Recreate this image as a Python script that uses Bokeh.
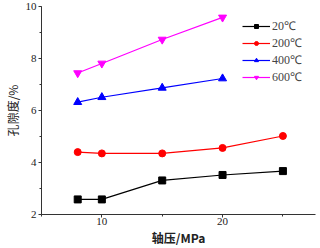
from bokeh.plotting import figure
from bokeh.models import Range1d, SingleIntervalTicker, Legend, LegendItem
from bokeh.embed import file_html
from bokeh.resources import INLINE

pressure = [8, 10, 15, 20, 25]
pressure_short = [8, 10, 15, 20]
t20 = [2.58, 2.58, 3.31, 3.52, 3.67]
t200 = [4.40, 4.35, 4.35, 4.56, 5.02]
t400 = [6.32, 6.51, 6.87, 7.23]
t600 = [7.44, 7.81, 8.73, 9.58]
labels = ["20℃", "200℃", "400℃", "600℃"]
colors = ["#000000", "#FF0000", "#0000FF", "#FF00FF"]
markers = ["square", "circle", "triangle", "inverted_triangle"]
xlabel = "轴压/MPa"
ylabel = "孔隙度/%"

p = figure(width=320, height=248, output_backend="svg", toolbar_location=None,
           x_range=Range1d(5, 27.7), y_range=Range1d(2, 10),
           min_border_left=36, min_border_right=5, min_border_top=6, min_border_bottom=34)
p.outline_line_color = None
p.xgrid.visible = False
p.ygrid.visible = False

series = [(pressure, t20), (pressure, t200), (pressure_short, t400), (pressure_short, t600)]
sizes = [7, 7, 8, 8]
items = []
for (xs, ys), lab, c, m, s in zip(series, labels, colors, markers, sizes):
    ln = p.line(xs, ys, line_color=c, line_width=1.2)
    sc = p.scatter(xs, ys, marker=m, size=s, fill_color=c, line_color=c)
    items.append(LegendItem(label=lab, renderers=[ln, sc]))

leg = Legend(items=items, location=(201, 129), orientation="vertical",
             background_fill_alpha=0, border_line_color=None,
             label_text_font="Liberation Serif", label_text_font_size="12px",
             glyph_width=28, glyph_height=10, spacing=-3, padding=0, margin=0,
             label_standoff=2, label_height=10)
p.add_layout(leg, "center")

for ax in (p.xaxis[0], p.yaxis[0]):
    ax.axis_line_color = "#333333"
    ax.major_tick_line_color = "#333333"
    ax.minor_tick_line_color = "#333333"
    ax.major_tick_in = 0
    ax.major_tick_out = 3
    ax.minor_tick_in = 0
    ax.minor_tick_out = 2
    ax.major_label_standoff = 2
    ax.major_label_text_font = "Liberation Serif"
    ax.major_label_text_font_size = "11px"
    ax.major_label_text_color = "#222222"
    ax.axis_label_text_font = "Noto Sans CJK SC"
    ax.axis_label_text_font_size = "12px"
    ax.axis_label_text_color = "#222222"
    ax.axis_label_text_font_style = "normal"

p.xaxis[0].ticker = SingleIntervalTicker(interval=10, num_minor_ticks=2)
p.yaxis[0].ticker = SingleIntervalTicker(interval=2, num_minor_ticks=2)
p.xaxis[0].axis_label = xlabel
p.yaxis[0].axis_label = ylabel
p.xaxis[0].major_label_standoff = 0
p.xaxis[0].axis_label_standoff = 1
p.yaxis[0].axis_label_standoff = 2
p.xaxis[0].axis_label_text_font_style = "bold"

open("out.html", "w").write(file_html(p, INLINE))
